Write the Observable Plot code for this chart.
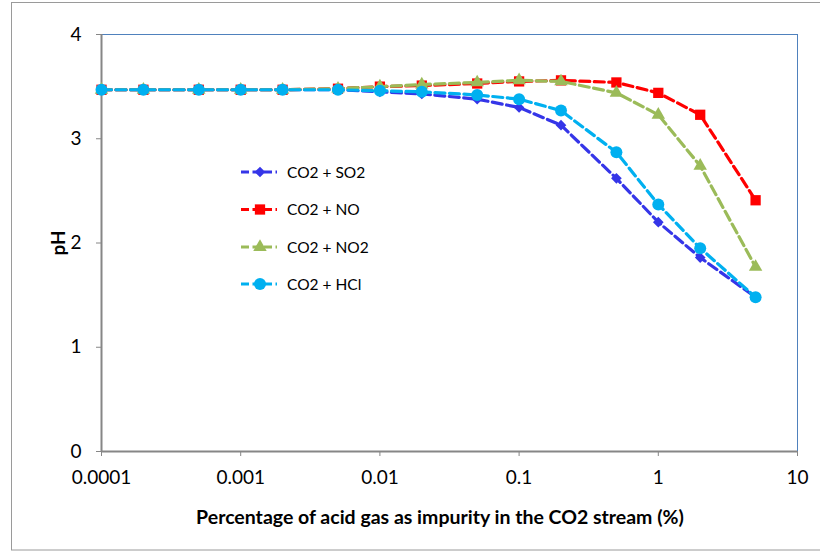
<!DOCTYPE html>
<html><head><meta charset="utf-8">
<script src="https://cdn.jsdelivr.net/npm/d3@7"></script>
<script src="https://cdn.jsdelivr.net/npm/@observablehq/plot@0.6"></script>
<style>body{margin:0;background:#fff} svg{font-family:Lato,sans-serif}</style>
</head><body><div id="chart"></div>
<script>
const concentration = [0.0001,0.0002,0.0005,0.001,0.002,0.005,0.01,0.02,0.05,0.1,0.2,0.5,1,2,5];
const phSO2 = [3.47,3.47,3.47,3.47,3.47,3.47,3.45,3.43,3.38,3.30,3.13,2.62,2.20,1.86,1.48];
const phNO  = [3.47,3.47,3.47,3.47,3.47,3.48,3.50,3.51,3.53,3.55,3.56,3.54,3.44,3.23,2.41];
const phNO2 = [3.47,3.47,3.47,3.47,3.47,3.48,3.50,3.52,3.54,3.56,3.55,3.44,3.23,2.74,1.77];
const phHCl = [3.47,3.47,3.47,3.47,3.47,3.47,3.46,3.45,3.42,3.38,3.27,2.87,2.37,1.95,1.48];
const seriesNames = ["CO2 + SO2","CO2 + NO","CO2 + NO2","CO2 + HCl"];
const xTicks = [0.0001,0.001,0.01,0.1,1,10];
const yTicks = [0,1,2,3,4];
const xTitle = "Percentage of acid gas as impurity in the CO2 stream (%)";
const yTitle = "pH";

const styles = [
  {color:"#3535e8", symbol:"diamond2", r:4.8},
  {color:"#ff0000", symbol:"square", r:5.8},
  {color:"#9bbb59", symbol:"triangle", r:5},
  {color:"#00b0f0", symbol:"circle", r:6}
];
const phs = [phSO2, phNO, phNO2, phHCl];
const rows = seriesNames.flatMap((s,i)=>concentration.map((c,j)=>({series:s, x:c, y:phs[i][j]})));

const seriesMarks = [];
seriesNames.forEach((s,i)=>{
  const d = rows.filter(r=>r.series===s);
  seriesMarks.push(Plot.line(d,{x:"x",y:"y",stroke:styles[i].color,strokeWidth:3.2,strokeDasharray:"10,4.5"}));
  seriesMarks.push(Plot.dot(d,{x:"x",y:"y",symbol:styles[i].symbol,fill:styles[i].color,r:styles[i].r,stroke:"none"}));
});

const chart = Plot.plot({
  width:820, height:552, marginLeft:101, marginRight:23, marginTop:34, marginBottom:101,
  x:{type:"log", domain:[1e-4,10]},
  y:{domain:[0,4]},
  style:{fontFamily:"Lato, sans-serif", fontSize:"19px", background:"white", color:"black"},
  marks:[
    Plot.ruleY([4],{stroke:"#4f81bd", strokeWidth:1}),
    Plot.ruleX([10],{stroke:"#4f81bd", strokeWidth:1}),
    Plot.axisX({ticks:xTicks, tickFormat:d=>String(d), tickSize:5, tickPadding:14, stroke:"#868686", fill:"black", label:null, fontSize:19}),
    Plot.axisY({ticks:yTicks, tickFormat:d=>String(d), tickSize:5, tickPadding:15, stroke:"#868686", fill:"black", label:null, fontSize:19}),
    Plot.ruleY([0],{stroke:"#868686", strokeWidth:2}),
    Plot.ruleX([1e-4],{stroke:"#868686", strokeWidth:2}),
    ...seriesMarks
  ]
});
document.getElementById("chart").appendChild(chart);

const svg = d3.select(chart);
svg.insert("rect", ":first-child")
  .attr("x",11.5).attr("y",2.5).attr("width",830).attr("height",547.5)
  .attr("fill","white").attr("stroke","#9a9a9a").attr("stroke-width",1);

svg.append("text").attr("x",440).attr("y",524).attr("text-anchor","middle")
  .attr("font-size",19.5).attr("font-weight","bold").attr("fill","black").text(xTitle);
svg.append("text").attr("transform","translate(65,243) rotate(-90)").attr("text-anchor","middle")
  .attr("font-size",19).attr("font-weight","bold").attr("fill","black").text(yTitle);

// legend
const legRowY = [172, 209.5, 247, 284];
const leg = svg.append("g");
seriesNames.forEach((s,i)=>{
  const y = legRowY[i];
  leg.append("line").attr("x1",241).attr("x2",277).attr("y1",y).attr("y2",y)
    .attr("stroke",styles[i].color).attr("stroke-width",3).attr("stroke-dasharray","8,3.5");
  const sym = {diamond2:d3.symbolDiamond2, square:d3.symbolSquare, triangle:d3.symbolTriangle, circle:d3.symbolCircle}[styles[i].symbol];
  leg.append("path").attr("transform",`translate(260,${y})`)
    .attr("d", d3.symbol(sym, Math.PI*styles[i].r*styles[i].r)())
    .attr("fill",styles[i].color);
  leg.append("text").attr("x",287).attr("y",y+5.5).attr("text-anchor","start")
    .attr("font-size",15.5).attr("fill","black").text(s);
});
</script></body></html>
